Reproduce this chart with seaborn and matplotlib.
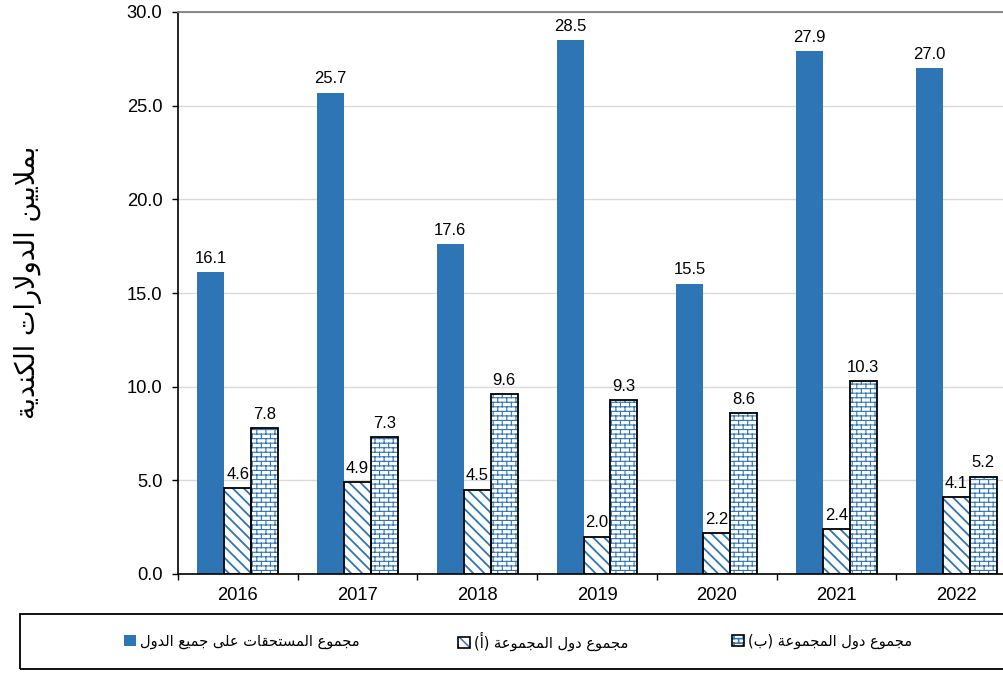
import warnings
warnings.filterwarnings('ignore')
import numpy as np
import pandas as pd
import matplotlib
matplotlib.use('Agg')
import matplotlib.pyplot as plt
import seaborn as sns
from matplotlib import hatch as mhatch
from matplotlib.path import Path
from matplotlib.patches import Rectangle, Patch

# ---------------- data ----------------
years = ['2016', '2017', '2018', '2019', '2020', '2021', '2022']
total = [16.1, 25.7, 17.6, 28.5, 15.5, 27.9, 27.0]
group_a = [4.6, 4.9, 4.5, 2.0, 2.2, 2.4, 4.1]
group_b = [7.8, 7.3, 9.6, 9.3, 8.6, 10.3, 5.2]
series_names = ['مجموع المستحقات على جميع الدول',
                'مجموع دول المجموعة (أ)',
                'مجموع دول المجموعة (ب)']
y_label = 'بملايين الدولارات الكندية'
y_ticks = [0, 5, 10, 15, 20, 25, 30]

BLUE = '#2E75B6'

# ------------- Arabic shaping (matplotlib has no complex text layout) -------------
FORMS = {
    '\u0627': ('\uFE8D', '\uFE8E', None, None),
    '\u0623': ('\uFE83', '\uFE84', None, None),
    '\u0628': ('\uFE8F', '\uFE90', '\uFE91', '\uFE92'),
    '\u0629': ('\uFE93', '\uFE94', None, None),
    '\u062A': ('\uFE95', '\uFE96', '\uFE97', '\uFE98'),
    '\u062C': ('\uFE9D', '\uFE9E', '\uFE9F', '\uFEA0'),
    '\u062D': ('\uFEA1', '\uFEA2', '\uFEA3', '\uFEA4'),
    '\u062F': ('\uFEA9', '\uFEAA', None, None),
    '\u0631': ('\uFEAD', '\uFEAE', None, None),
    '\u0633': ('\uFEB1', '\uFEB2', '\uFEB3', '\uFEB4'),
    '\u0639': ('\uFEC9', '\uFECA', '\uFECB', '\uFECC'),
    '\u0642': ('\uFED5', '\uFED6', '\uFED7', '\uFED8'),
    '\u0643': ('\uFED9', '\uFEDA', '\uFEDB', '\uFEDC'),
    '\u0644': ('\uFEDD', '\uFEDE', '\uFEDF', '\uFEE0'),
    '\u0645': ('\uFEE1', '\uFEE2', '\uFEE3', '\uFEE4'),
    '\u0646': ('\uFEE5', '\uFEE6', '\uFEE7', '\uFEE8'),
    '\u0647': ('\uFEE9', '\uFEEA', '\uFEEB', '\uFEEC'),
    '\u0648': ('\uFEED', '\uFEEE', None, None),
    '\u0649': ('\uFEEF', '\uFEF0', None, None),
    '\u064A': ('\uFEF1', '\uFEF2', '\uFEF3', '\uFEF4'),
}
LAM_ALEF = {'\u0627': ('\uFEFB', '\uFEFC'), '\u0623': ('\uFEF7', '\uFEF8')}


def shape(s):
    units = []
    i = 0
    while i < len(s):
        c = s[i]
        if c == '\u0644' and i + 1 < len(s) and s[i + 1] in LAM_ALEF:
            units.append(('LA', s[i + 1]))
            i += 2
        else:
            units.append(('C', c))
            i += 1

    def joins_next(u):
        return u[0] == 'C' and u[1] in FORMS and FORMS[u[1]][2] is not None

    def is_ar(u):
        return u[0] == 'LA' or u[1] in FORMS

    res = []
    for j, u in enumerate(units):
        prev = units[j - 1] if j > 0 else None
        nxt = units[j + 1] if j + 1 < len(units) else None
        jp = prev is not None and joins_next(prev) and is_ar(u)
        if u[0] == 'LA':
            res.append(LAM_ALEF[u[1]][1 if jp else 0])
            continue
        c = u[1]
        if c not in FORMS:
            res.append(c)
            continue
        f = FORMS[c]
        jn = f[2] is not None and nxt is not None and is_ar(nxt)
        if jp and jn:
            res.append(f[3])
        elif jp:
            res.append(f[1])
        elif jn:
            res.append(f[2])
        else:
            res.append(f[0])
    vis = ''.join(res)[::-1]
    return vis.translate(str.maketrans('()', ')('))


# ------------- brick hatch -------------
class BrickHatch(mhatch.HatchPatternBase):
    def __init__(self, hatch, density):
        n = hatch.count('b')
        rows = 22 * n
        cols = 11
        self.segs = []
        if rows:
            h = 1.0 / rows
            w = 1.0 / cols
            ys = [(r + 0.5) * h for r in range(rows)]
            for y in ys:
                self.segs.append(((0.0, y), (1.0, y)))
            for r in range(rows):
                y0, y1 = ys[r], ys[r] + h
                off = 0.25 * w if r % 2 == 0 else 0.75 * w
                for c in range(cols):
                    x = c * w + off
                    if y1 <= 1.0:
                        self.segs.append(((x, y0), (x, y1)))
                    else:
                        self.segs.append(((x, y0), (x, 1.0)))
                        self.segs.append(((x, 0.0), (x, y1 - 1.0)))
        self.num_vertices = 2 * len(self.segs)

    def set_vertices_and_codes(self, vertices, codes):
        for k, (a, b) in enumerate(self.segs):
            vertices[2 * k] = a
            vertices[2 * k + 1] = b
        codes[0::2] = Path.MOVETO
        codes[1::2] = Path.LINETO


mhatch._hatch_types.append(BrickHatch)

HATCH_A = '\\\\\\'
HATCH_B = 'b'
HLW_A = 1.3
HLW_B = 0.8

# ------------- style -------------
sns.set_theme(style='white')
plt.rcParams['font.family'] = ['Liberation Sans', 'DejaVu Sans']
for k in ['text.color', 'axes.labelcolor', 'xtick.color', 'ytick.color']:
    plt.rcParams[k] = 'black'
plt.rcParams['hatch.linewidth'] = 1.1

fig = plt.figure(figsize=(10.04, 6.73), dpi=100)
ax = fig.add_axes([178 / 1004, 99 / 673, 838 / 1004, 562 / 673])

df = pd.DataFrame({
    'year': years * 3,
    'value': total + group_a + group_b,
    'series': [n for n in series_names for _ in years],
})

sns.barplot(data=df, x='year', y='value', hue='series', hue_order=series_names,
            palette=[BLUE, 'white', 'white'], saturation=1, width=0.675, gap=0,
            errorbar=None, legend=False, ax=ax, linewidth=0)


def set_hlw(p, lw):
    if hasattr(p, 'set_hatch_linewidth'):
        p.set_hatch_linewidth(lw)


for i, cont in enumerate(ax.containers):
    for p in cont.patches:
        if i == 0:
            p.set_facecolor(BLUE)
            p.set_edgecolor(BLUE)
            p.set_linewidth(0)
        else:
            p.set_facecolor('white')
            p.set_edgecolor(BLUE)
            p.set_linewidth(0)
            p.set_hatch(HATCH_A if i == 1 else HATCH_B)
            set_hlw(p, HLW_A if i == 1 else HLW_B)
            ax.add_patch(Rectangle(p.get_xy(), p.get_width(), p.get_height(),
                                   fill=False, edgecolor='black', linewidth=1.3,
                                   zorder=p.get_zorder() + 0.1))
    ax.bar_label(cont, fmt='%.1f', padding=4.5, fontsize=12, color='black')

# axes
ax.set_xlim(-0.5, 6.5)
ax.set_ylim(0, 30)
ax.set_yticks(y_ticks)
ax.set_yticklabels([f'{v:.1f}' for v in y_ticks], fontsize=13.2)
ax.set_xticks(range(len(years)))
ax.set_xticklabels(years, fontsize=13.2)
ax.set_xticks(np.arange(-0.5, len(years) + 0.5, 1.0), minor=True)
ax.tick_params(axis='x', which='major', length=0, pad=9)
ax.tick_params(axis='x', which='minor', length=4.3, width=1, direction='out',
               color='black', bottom=True)
ax.tick_params(axis='y', which='major', length=4.3, width=1, direction='out',
               color='black', pad=7, left=True)
ax.set_xlabel('')
ax.yaxis.grid(True, color='#D9D9D9', linewidth=1)
ax.xaxis.grid(False)
ax.set_axisbelow(True)
ax.spines['left'].set_color('black')
ax.spines['bottom'].set_color('black')
ax.spines['left'].set_linewidth(1.2)
ax.spines['bottom'].set_linewidth(1.2)
ax.spines['top'].set_color('#808080')
ax.spines['top'].set_linewidth(1.3)
ax.spines['right'].set_visible(False)

ax.set_ylabel(shape(y_label), fontsize=19.5, family=['DejaVu Sans'])
ax.yaxis.set_label_coords(-0.162, (574 - 282) / 562)

# legend
handles = [
    Patch(facecolor=BLUE, edgecolor='none'),
    (Patch(facecolor='white', edgecolor=BLUE, hatch=HATCH_A, linewidth=0),
     Patch(fill=False, edgecolor='black', linewidth=1.2)),
    (Patch(facecolor='white', edgecolor=BLUE, hatch=HATCH_B, linewidth=0),
     Patch(fill=False, edgecolor='black', linewidth=1.2)),
]
leg_x = [124, 458, 732]
for h, name, x in zip(handles, series_names, leg_x):
    fig.legend([h], [shape(name)], loc='center left',
               bbox_to_anchor=(x / 1004, 1 - 641 / 673), frameon=False,
               prop={'family': ['DejaVu Sans'], 'size': 10.5},
               handlelength=0.8, handleheight=0.8, handletextpad=0.3,
               borderpad=0, borderaxespad=0)

fig.add_artist(Rectangle((20 / 1004, 1 - 669 / 673), (1010 - 20) / 1004, 55 / 673,
                         transform=fig.transFigure, fill=False,
                         edgecolor='black', linewidth=1.3))

fig.savefig('out.png', dpi=100)
